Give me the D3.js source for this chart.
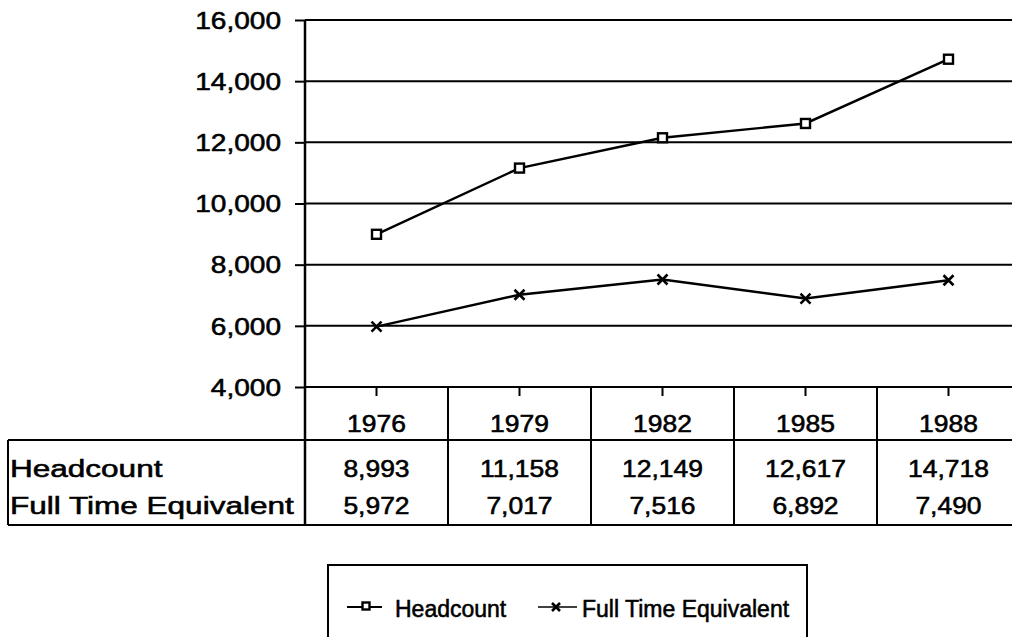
<!DOCTYPE html>
<html><head><meta charset="utf-8">
<script src="https://cdn.jsdelivr.net/npm/d3@7"></script>
<style>
body{margin:0;background:#fff}
svg{display:block}
text{font-family:"Liberation Sans",Arial,Helvetica,sans-serif;fill:#000;stroke:#000;stroke-width:0.55px}
</style>
</head><body>
<svg id="c" width="1012" height="637"></svg>
<script>
const years = ["1976","1979","1982","1985","1988"];
const headcount = [8993,11158,12149,12617,14718];
const fte = [5972,7017,7516,6892,7490];
const yTicks = [4000,6000,8000,10000,12000,14000,16000];
const seriesNames = ["Headcount","Full Time Equivalent"];

const W = 1012, H = 637;
const plotLeft = 305, plotTop = 20, plotBottom = 387;
const tableTop = 440, tableBottom = 525, tableLeft = 8;
const FS = 23;
const svg = d3.select("#c");

const x = d3.scaleBand().domain(years).range([plotLeft, plotLeft + 5*143]).padding(0);
const y = d3.scaleLinear().domain([4000,16000]).range([plotBottom, plotTop]);
const cx = d => x(d) + x.bandwidth()/2;
const fmt = d3.format(",");

function stretch(sel, k){
  sel.each(function(){
    const w = this.getComputedTextLength();
    this.setAttribute("textLength", w*k);
    this.setAttribute("lengthAdjust","spacingAndGlyphs");
  });
}

// gridlines
svg.append("g").selectAll("line").data(yTicks).join("line")
  .attr("x1", plotLeft).attr("x2", W).attr("y1", d=>y(d)).attr("y2", d=>y(d))
  .attr("stroke","#000").attr("stroke-width",2);

// y axis
const yAxis = svg.append("g").attr("transform",`translate(${plotLeft},0)`)
  .call(d3.axisLeft(y).tickValues(yTicks).tickSize(10).tickPadding(14).tickFormat(fmt));
yAxis.select(".domain").remove();
yAxis.selectAll(".tick line").attr("stroke","#000").attr("stroke-width",2);
const yt = yAxis.selectAll(".tick text").attr("font-size",FS).attr("dy","0.36em").attr("x",-24);
stretch(yt, 1.22);

// vertical axis line through table
svg.append("line").attr("x1",plotLeft).attr("x2",plotLeft).attr("y1",plotTop).attr("y2",tableBottom)
  .attr("stroke","#000").attr("stroke-width",2.5);

// x axis
const xAxis = svg.append("g").attr("transform",`translate(0,${plotBottom})`)
  .call(d3.axisBottom(x).tickSize(9).tickPadding(0));
xAxis.select(".domain").remove();
xAxis.selectAll(".tick line").attr("stroke","#000").attr("stroke-width",2);
const xt = xAxis.selectAll(".tick text").attr("font-size",FS).attr("y",45).attr("dy",0);
stretch(xt, 1.15);

// table structure
const boundaries = years.slice(1).map(d => x(d));
svg.append("g").selectAll("line").data(boundaries).join("line")
  .attr("x1",d=>d).attr("x2",d=>d).attr("y1",plotBottom).attr("y2",tableBottom)
  .attr("stroke","#000").attr("stroke-width",2);
svg.append("line").attr("x1",tableLeft).attr("x2",W).attr("y1",tableTop).attr("y2",tableTop)
  .attr("stroke","#000").attr("stroke-width",2);
svg.append("line").attr("x1",tableLeft).attr("x2",W).attr("y1",tableBottom).attr("y2",tableBottom)
  .attr("stroke","#000").attr("stroke-width",2);
svg.append("line").attr("x1",tableLeft).attr("x2",tableLeft).attr("y1",tableTop).attr("y2",tableBottom)
  .attr("stroke","#000").attr("stroke-width",2);

const rows = [{name:seriesNames[0], vals:headcount, base:477},{name:seriesNames[1], vals:fte, base:514}];
rows.forEach(r=>{
  const lab = svg.append("text").attr("x",10).attr("y",r.base).attr("font-size",FS).text(r.name);
  stretch(lab, 1.37);
  const vt = svg.append("g").selectAll("text").data(years).join("text")
    .attr("x",d=>cx(d)).attr("y",r.base).attr("text-anchor","middle").attr("font-size",FS)
    .text((d,i)=>fmt(r.vals[i]));
  stretch(vt, 1.15);
});

// lines
const line = d3.line().x((d,i)=>cx(years[i])).y(d=>y(d));
svg.append("path").datum(headcount).attr("d",line).attr("fill","none").attr("stroke","#000").attr("stroke-width",2.4);
svg.append("path").datum(fte).attr("d",line).attr("fill","none").attr("stroke","#000").attr("stroke-width",2.4);

function square(g, px, py, s){
  g.append("rect").attr("x",px-s/2).attr("y",py-s/2).attr("width",s).attr("height",s)
   .attr("fill","#fff").attr("stroke","#000").attr("stroke-width",2.4);
}
function cross(g, px, py, s){
  g.append("path").attr("d",`M${px-s/2},${py-s/2}L${px+s/2},${py+s/2}M${px-s/2},${py+s/2}L${px+s/2},${py-s/2}`)
   .attr("stroke","#000").attr("stroke-width",2.6);
}
const mk = svg.append("g");
headcount.forEach((v,i)=>square(mk, cx(years[i]), y(v), 9));
fte.forEach((v,i)=>cross(mk, cx(years[i]), y(v), 10));

// legend
const lg = svg.append("g");
lg.append("rect").attr("x",328).attr("y",565).attr("width",479).attr("height",110)
  .attr("fill","none").attr("stroke","#000").attr("stroke-width",2);
lg.append("line").attr("x1",347).attr("x2",382).attr("y1",607).attr("y2",607).attr("stroke","#000").attr("stroke-width",2);
square(lg, 366, 606, 7);
lg.append("text").attr("x",395).attr("y",617).attr("font-size",FS).text(seriesNames[0]);
lg.append("line").attr("x1",538).attr("x2",577).attr("y1",607).attr("y2",607).attr("stroke","#000").attr("stroke-width",1.6);
cross(lg, 556, 607, 8);
lg.append("text").attr("x",582).attr("y",617).attr("font-size",FS).text(seriesNames[1]);
</script>
</body></html>
